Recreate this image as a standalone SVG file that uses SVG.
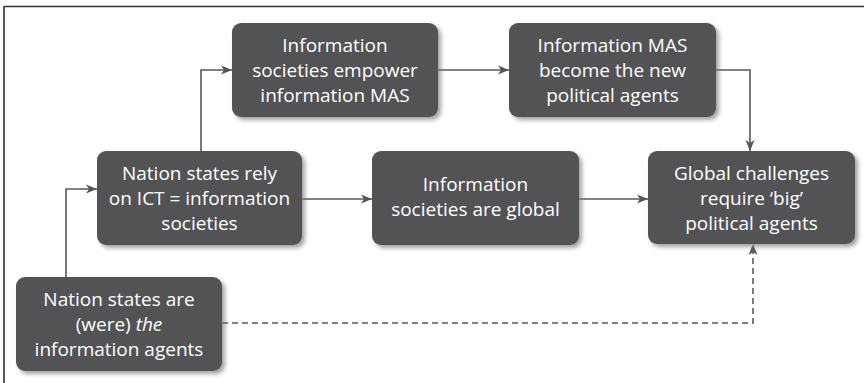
<svg xmlns="http://www.w3.org/2000/svg" width="864" height="383" viewBox="0 0 864 383">
  <defs>
    <filter id="shadow" x="-10%" y="-10%" width="125%" height="130%">
      <feDropShadow dx="3" dy="3" stdDeviation="2" flood-color="#7a7a7a" flood-opacity="0.7"/>
    </filter>
    <marker id="arrow" markerUnits="userSpaceOnUse" markerWidth="12" markerHeight="10" refX="11" refY="5" orient="auto">
      <path d="M0,0.5 L11,5 L0,9.5 L3,5 Z" fill="#555557"/>
    </marker>
    <style>
      .box { fill: #525254; filter: url(#shadow); }
      .label { fill: #ffffff; font-family: "Open Sans", "Liberation Sans", sans-serif; font-size: 19px; text-anchor: middle; }
      .link { fill: none; stroke: #58585a; stroke-width: 1.6; marker-end: url(#arrow); }
      .dashed { stroke-dasharray: 6 4; }
    </style>
  </defs>

  <rect width="864" height="383" fill="#ffffff"/>

  <!-- frame -->
  <line x1="4" y1="6.5" x2="864" y2="6.5" stroke="#333333" stroke-width="1.5"/>
  <line x1="4" y1="6" x2="4" y2="383" stroke="#555555" stroke-width="2"/>

  <!-- connectors -->
  <g id="connectors">
    <path class="link" d="M201,151 V70 H232"/>
    <path class="link" d="M438,70 H509"/>
    <path class="link" d="M716,70 H750 V151"/>
    <path class="link" d="M66,277 V189 H97"/>
    <path class="link" d="M302,199 H372"/>
    <path class="link" d="M579,199 H648"/>
    <path class="link dashed" d="M222,323 H753 V244"/>
  </g>

  <g id="node-empower">
    <rect class="box" x="232" y="23" width="206" height="94" rx="9"/>
    <text class="label" x="335" y="52">Information</text>
    <text class="label" x="335" y="77">societies empower</text>
    <text class="label" x="335" y="102">information MAS</text>
  </g>

  <g id="node-new-agents">
    <rect class="box" x="509" y="23" width="207" height="94" rx="9"/>
    <text class="label" x="612.5" y="52">Information MAS</text>
    <text class="label" x="612.5" y="77">become the new</text>
    <text class="label" x="612.5" y="102">political agents</text>
  </g>

  <g id="node-rely-ict">
    <rect class="box" x="97" y="151" width="205" height="94" rx="9"/>
    <text class="label" x="199.5" y="180">Nation states rely</text>
    <text class="label" x="199.5" y="205">on ICT = information</text>
    <text class="label" x="199.5" y="230">societies</text>
  </g>

  <g id="node-global">
    <rect class="box" x="372" y="151" width="207" height="94" rx="9"/>
    <text class="label" x="475.5" y="191">Information</text>
    <text class="label" x="475.5" y="216">societies are global</text>
  </g>

  <g id="node-challenges">
    <rect class="box" x="648" y="151" width="207" height="93" rx="9"/>
    <text class="label" x="751.5" y="180">Global challenges</text>
    <text class="label" x="751.5" y="205">require ‘big’</text>
    <text class="label" x="751.5" y="230">political agents</text>
  </g>

  <g id="node-were-agents">
    <rect class="box" x="16" y="277" width="206" height="94" rx="9"/>
    <text class="label" x="119" y="306">Nation states are</text>
    <text class="label" x="119" y="331">(were) <tspan font-style="italic">the</tspan></text>
    <text class="label" x="119" y="356">information agents</text>
  </g>
</svg>
